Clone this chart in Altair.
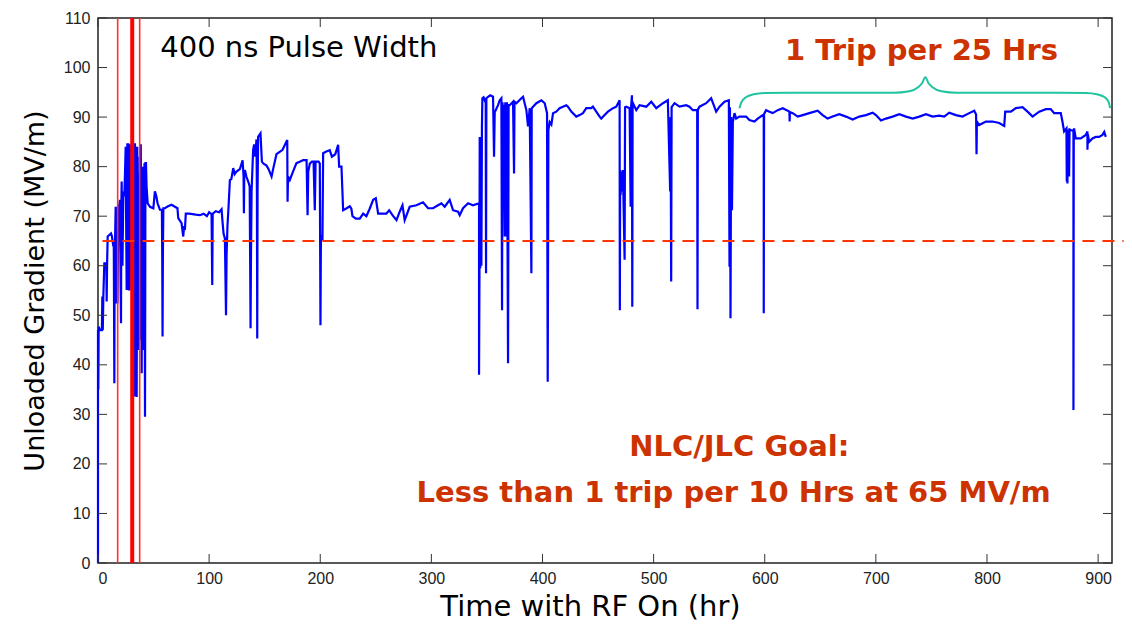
import altair as alt
import pandas as pd

seg_early = [
    (0, 0), (0, 47), (0.3, 35), (0.6, 47.7), (1.8, 47), (3.5, 47), (3.9, 53.8), (4.3, 47), (4.8, 53.8),
    (5.7, 60.5), (7.5, 60.5), (7.8, 52.8), (8.2, 60.5), (8.7, 65.9), (11.7, 66.5), (12.5, 66), (13.8, 63.9),
    (14.2, 65.2), (14.7, 36.3), (15.0, 65), (15.3, 64.5), (15.9, 71.9), (16.3, 52.4), (16.8, 71.9), (17.5, 52.4),
    (18.3, 71), (19.8, 73.3), (20.4, 55), (20.7, 48.4), (21.0, 72), (21.3, 77), (22.0, 60), (22.8, 75), (23.7, 74),
    (24.3, 78.7), (24.9, 84), (25.3, 70), (25.8, 55.1), (26.1, 80), (26.4, 84.7), (27.0, 60), (27.3, 84.7),
    (27.8, 55), (28.3, 82), (28.8, 60.5), (29.3, 84.5), (30.0, 55), (30.5, 84.5), (31.0, 40), (31.5, 84.5),
    (31.8, 33.6), (32.3, 80), (32.8, 40), (33.3, 84.7), (33.8, 33.6), (34.3, 84), (34.8, 33.5), (35.3, 84),
    (35.8, 50), (36.3, 78.7), (36.8, 43), (37.5, 82), (38.0, 45), (38.5, 84.5), (39.3, 38.3), (39.8, 80),
    (40.3, 45), (40.8, 75.3), (41.3, 43), (41.8, 80.7), (42.3, 29.5), (42.7, 80.7), (43.2, 80.7), (43.7, 76),
    (44.7, 72.6), (46.8, 71.9), (49.8, 71.6), (51.2, 75), (52.5, 74), (53.6, 72.6), (55.7, 71.3), (57.5, 71.3),
    (57.8, 62), (58.1, 45.7), (58.4, 62), (58.8, 71.6), (60.2, 71.6), (63, 72), (66.2, 72.3), (69.2, 71.9),
    (71.5, 71.6), (72.2, 69.6), (75.2, 68.6), (76.7, 65.9), (77.5, 68), (78.2, 67.2), (79, 70.5),
]
seg_mid = [
    (82, 70.5), (88, 70.3), (91.7, 70.2), (95, 70.5), (98, 70), (100, 70.8), (102.2, 70.4), (102.8, 56.1),
    (103.2, 70.5), (106, 71), (109, 70.8), (111.2, 71.4), (112, 69), (113, 66.5), (114.2, 65.5), (115.2, 50),
    (115.7, 62), (116.5, 68), (117.5, 72), (118.7, 77.3), (120, 77.5), (121.7, 79.7), (123, 78.5), (124.6, 79),
    (127.7, 79.5), (130.1, 81.3), (131, 78), (131.3, 70.6), (131.6, 78), (132.2, 79.3), (133.5, 78), (135.2, 77),
    (136.5, 76), (137.3, 47.4), (137.6, 60), (138.2, 75), (139.6, 83.4), (140.5, 84.5), (141.5, 82),
    (142.6, 85.5), (143, 75), (143.3, 45.3), (143.6, 75), (144.1, 86), (146.2, 86.7), (147.5, 81), (149, 80.6),
    (151.7, 80.2), (153.5, 79.5), (156.2, 78), (157.6, 79.5), (160.6, 82.5), (163.5, 83), (166.1, 83.4),
    (170.3, 85.4), (170.6, 72.9), (171, 78), (172.6, 77.3), (175.5, 79), (178.6, 80.7), (181.5, 81),
    (184.6, 81.3), (187.7, 81.3), (188.6, 70.2), (189.2, 79), (190.6, 80.6), (192.5, 81), (194, 81),
    (195.1, 71.2), (195.8, 81), (198.5, 81), (199.6, 80.6), (200.2, 48), (200.6, 66), (202, 65.5),
    (202.6, 82.7), (205, 83), (208.6, 83.3), (210.5, 82), (213.5, 82.5), (216.1, 84.4), (217, 80), (219.1, 80),
    (220.6, 71.2), (223, 71.5), (226.6, 72), (228, 71.5), (229, 70), (232, 69.5), (235.6, 69.5), (238.6, 70.5),
    (241.5, 70), (244.5, 71.5), (247.6, 73.3), (250, 73.6), (252.1, 70.5), (254, 70.5), (259.5, 70.5),
    (262, 71.2), (265, 70.2), (268.6, 69.2), (271.5, 70.9), (274, 72.2), (276, 69.2), (280.5, 71.9),
    (286.5, 72.2), (292.5, 72.8), (297, 71.6), (301.5, 71.6), (306, 72.2), (309, 72.6), (312, 71.9),
    (316.5, 73.3), (319.5, 71.2), (324, 70.9), (325.5, 70.2), (328.5, 71.6), (333, 72.6), (337.5, 72.2),
    (342.9, 72.6),
]
seg_high = [
    (342.9, 38), (343.3, 60), (343.5, 86), (344, 59.5), (344.5, 86), (345, 60), (345.5, 88), (345.9, 93.8),
    (347, 94), (348, 93.4), (348.9, 93.8), (349.2, 58.5), (349.5, 93.8), (351, 94.1), (353, 94.4),
    (355.5, 94.1), (356.4, 82), (357, 91), (357.9, 91.4), (360, 92.4), (361.5, 93.4), (363, 93.8), (363.6, 51),
    (364, 93), (364.5, 71.9), (365, 92.5), (366, 65.9), (366.5, 93), (367.5, 65.9), (368, 93), (369, 40.3),
    (369.5, 92.4), (370.5, 92.4), (373.5, 93.1), (374.4, 78.6), (374.8, 93.1), (376.5, 92.8), (381, 93.8),
    (382.5, 94.1), (385.5, 91.4), (387, 88.1), (388.5, 91.8), (390, 58.5), (390.3, 91.8), (391.5, 92.1),
    (394.5, 92.8), (399, 93.4), (402, 92.8), (404.1, 90.8), (404.7, 36.6), (405.3, 87.4), (406.5, 89),
    (408, 88.5), (409.5, 90.8), (412.4, 91.1), (415.4, 91.8), (421.4, 92.4), (422.9, 92.1), (425.9, 91.1),
    (430.4, 90.1), (433.4, 90.4), (436.4, 90.8), (439.4, 91.8), (443.9, 91.8), (445.4, 92.1), (448.4, 91.1),
    (451.4, 90.1), (452.9, 89.7), (455.9, 90.4), (458.9, 91.1), (463.4, 91.8), (466.4, 92.1), (469.4, 93.4),
    (469.6, 51), (469.9, 79.3), (470.3, 74.3), (471, 79), (472, 75), (472.4, 79.3), (473.9, 61.2), (474.3, 92),
    (475.4, 92.1), (478.4, 91.8), (479.3, 71.9), (479.7, 92), (480.5, 94.4), (480.8, 51.7), (481.1, 92),
    (481.4, 92.8), (484.4, 91.4), (487.4, 92.4), (493.4, 92.1), (497.9, 93.1), (502.4, 91.8), (508.4, 92.8),
    (512.8, 93.4), (514.9, 75), (515.3, 90), (515.8, 56.8), (516.2, 92), (518.8, 92.8), (523.3, 92.1),
    (529.3, 92.4), (532.3, 92.1), (535.3, 91.4), (539.2, 91.4), (539.5, 51.2), (539.8, 91.5), (541.3, 92.1),
    (547.3, 92.8), (551.8, 93.8), (556.3, 91.1), (559.3, 92.1), (563.8, 93.1), (567.7, 93.4), (568.3, 59.8),
    (568.7, 92), (569.2, 49.4), (569.5, 71.2), (569.8, 90), (570.5, 71.2), (571.3, 89), (572.8, 90.8),
    (574.3, 89.7),
]
seg_late = [
    (577.2, 90.1), (583.2, 90.1), (586.2, 89.4), (590.7, 89.1), (593.7, 89.7), (598.2, 90.4), (599.1, 90.4),
    (599.1, 50.4), (599.4, 90.6), (601.2, 91.4), (604.2, 91.1), (607.2, 90.8), (611.7, 91.4), (616.2, 91.8),
    (622.2, 91.1), (622.4, 89.1), (622.6, 91), (625.2, 90.8), (629.7, 90.1), (634.2, 90.4), (640.1, 90.8),
    (647.6, 91.3), (652.1, 90.4), (656.6, 89.7), (661.1, 90.1), (667.1, 90.6), (673.1, 90.1), (679.1, 89.5),
    (685.1, 90.1), (691.1, 90.4), (697.1, 90.9), (700.1, 90.4), (704.6, 89.3), (709.1, 89.7), (715.1, 90.1),
    (721.1, 90.6), (727.1, 90.1), (733.1, 89.7), (739.1, 90.1), (745.1, 90.6), (751.1, 90.1), (757, 90.3),
    (761.5, 90.1), (766, 90.9), (772, 90.4), (778, 90.1), (784, 90.8), (788.5, 91.3), (790.2, 90.5),
    (790.6, 82.5), (790.9, 89.1), (793, 88.4), (799, 89.1), (805, 89.1), (811, 88.8), (815.5, 88.2),
    (816.4, 91.1), (821.5, 91.1), (826, 91.8), (832, 92), (836.5, 91.1), (841, 90.1), (847, 91.1), (853, 91.6),
    (857.4, 91.6), (860.4, 90.8), (866.4, 90.8), (867.9, 89.1), (869.4, 87.1), (871.5, 87.7), (871.8, 77),
    (872.1, 87.5), (872.4, 76.6), (873, 87.5), (873.9, 78), (874.3, 87.5), (875.4, 87.4), (877.8, 87.2),
    (877.8, 30.9), (878.1, 87.5), (878.4, 87.7), (879.9, 85.7), (884.4, 85.7), (888.9, 86.4), (890.4, 87.1),
    (890.4, 83.4), (890.8, 86.5), (891.9, 85), (894.9, 85.7), (897.9, 86), (900.9, 86), (903.9, 86.4),
    (905.5, 87), (906.9, 86),
]

x_ticks = [0, 100, 200, 300, 400, 500, 600, 700, 800, 900]
y_ticks = [0, 10, 20, 30, 40, 50, 60, 70, 80, 90, 100, 110]
x_max = 912.5
goal_gradient = 65
goal_span = [4, 923]
trip_thin = [17.7, 37.5]
trip_thick = [30.8]
brace_pts = [
    (577.2, 91.8), (579, 93.0), (583, 94.0), (590, 94.6), (600, 94.85), (622, 94.9), (716, 94.9),
    (730, 95.2), (738, 96.0), (742, 97.0), (744.5, 98.1), (747, 97.0), (751, 96.0), (759, 95.2),
    (773, 94.9), (866.7, 94.9), (889, 94.85), (899, 94.6), (906, 94.0), (909.5, 93.0), (910.8, 91.8),
]
labels = [
    ("400 ns Pulse Width", 56, 103.9, "left", "black", "normal", 29),
    ("1 Trip per 25 Hrs", 741, 103.3, "center", "#CC3300", "bold", 29),
    ("NLC/JLC Goal:", 577, 23.4, "center", "#CC3300", "bold", 29),
    ("Less than 1 trip per 10 Hrs at 65 MV/m", 572, 14.1, "center", "#CC3300", "bold", 29),
]

W, H = 1014, 545
FONT = "DejaVu Sans"

pts = seg_early + seg_mid + seg_high + seg_late
series = pd.DataFrame({"t": [p[0] for p in pts], "g": [p[1] for p in pts], "i": range(len(pts))})

xs = alt.Scale(domain=[0, x_max], nice=False, zero=False)
ys = alt.Scale(domain=[0, 110], nice=False)

line = alt.Chart(series).mark_line(color="#0000FF", strokeWidth=2.2, strokeJoin="miter").encode(
    x=alt.X("t:Q", scale=xs, axis=alt.Axis(
        values=x_ticks, title="Time with RF On (hr)", grid=False, ticks=False, tickSize=0, domain=False,
        labelFont="Liberation Sans", labelFontSize=16, labelColor="#222", labelPadding=7,
        titleFont=FONT, titleFontSize=29, titleFontWeight="normal", titleColor="black", titlePadding=6,
        titleX=492)),
    y=alt.Y("g:Q", scale=ys, axis=alt.Axis(
        values=y_ticks, title="Unloaded Gradient (MV/m)", grid=False, ticks=False, tickSize=0, domain=False,
        labelFont="Liberation Sans", labelFontSize=16, labelColor="#222", labelPadding=8,
        titleFont=FONT, titleFontSize=27, titleFontWeight="normal", titleColor="black", titlePadding=14)),
    order="i:Q",
)

tdf_x = pd.DataFrame({"v": x_ticks})
tdf_y = pd.DataFrame({"v": y_ticks})
tick_bottom = alt.Chart(tdf_x).mark_rule(color="#333", strokeWidth=1).encode(
    x=alt.X("v:Q", scale=xs), y=alt.value(H - 9), y2=alt.value(H))
tick_top = alt.Chart(tdf_x).mark_rule(color="#333", strokeWidth=1).encode(
    x=alt.X("v:Q", scale=xs), y=alt.value(0), y2=alt.value(9))
tick_left = alt.Chart(tdf_y).mark_rule(color="#333", strokeWidth=1).encode(
    y=alt.Y("v:Q", scale=ys), x=alt.value(0), x2=alt.value(9))
tick_right = alt.Chart(tdf_y).mark_rule(color="#333", strokeWidth=1).encode(
    y=alt.Y("v:Q", scale=ys), x=alt.value(W - 9), x2=alt.value(W))

thin = alt.Chart(pd.DataFrame({"t": trip_thin})).mark_rule(color="#FF3030", strokeWidth=1.6).encode(
    x=alt.X("t:Q", scale=xs), y=alt.value(0), y2=alt.value(H))
thick = alt.Chart(pd.DataFrame({"t": trip_thick})).mark_rule(color="#FF0000", strokeWidth=4).encode(
    x=alt.X("t:Q", scale=xs), y=alt.value(0), y2=alt.value(H))

goal = alt.Chart(pd.DataFrame({"a": [goal_span[0]], "b": [goal_span[1]], "g": [goal_gradient]})).mark_rule(
    color="#FF3300", strokeWidth=2, strokeDash=[12, 8], clip=False).encode(
    x=alt.X("a:Q", scale=xs), x2="b:Q", y=alt.Y("g:Q", scale=ys))

brace = alt.Chart(pd.DataFrame({"t": [p[0] for p in brace_pts], "g": [p[1] for p in brace_pts],
                                "i": range(len(brace_pts))})).mark_line(
    color="#22C4A0", strokeWidth=2, interpolate="monotone", clip=False).encode(
    x=alt.X("t:Q", scale=xs), y=alt.Y("g:Q", scale=ys), order="i:Q")

text_layers = []
for txt, tx, ty, al, col, wt, fs in labels:
    text_layers.append(
        alt.Chart(pd.DataFrame({"t": [tx], "g": [ty], "s": [txt]})).mark_text(
            align=al, baseline="middle", font=FONT, fontSize=fs, fontWeight=wt, color=col).encode(
            x=alt.X("t:Q", scale=xs), y=alt.Y("g:Q", scale=ys), text="s:N"))

chart = alt.layer(line, thin, thick, goal, brace, tick_bottom, tick_top, tick_left, tick_right,
                  *text_layers).properties(
    width=W, height=H,
    autosize=alt.AutoSizeParams(type="none"),
    padding={"left": 98, "top": 18, "right": 20, "bottom": 64},
    background="white",
).configure_view(stroke="#222", strokeWidth=1.5)

chart.save("out.html", embed_options={"renderer": "svg", "actions": False})
